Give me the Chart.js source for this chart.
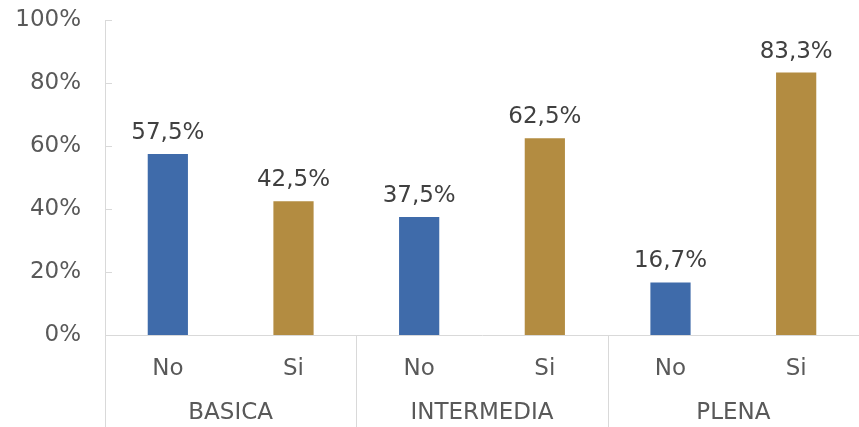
<!DOCTYPE html>
<html>
<head>
<meta charset="utf-8">
<script src="https://cdn.jsdelivr.net/npm/chart.js@4"></script>
<style>
  html, body { margin: 0; padding: 0; background: #fff; }
  #wrap { width: 859px; height: 427px; }
</style>
</head>
<body>
<div id="wrap"><canvas id="chart"></canvas></div>
<script>
// data
const groups = ['BASICA', 'INTERMEDIA', 'PLENA'];
const answers = ['No', 'Si'];
const values = [57.5, 42.5, 37.5, 62.5, 16.7, 83.3];
const yTicks = [0, 20, 40, 60, 80, 100];

const blue = '#3F6BAA';
const gold = '#B38C41';
const font = '"DejaVu Sans", Verdana, sans-serif';
const fontSize = 23;

const labels = [];
groups.forEach(function () { answers.forEach(function (a) { labels.push(a); }); });

// value labels over bars, group labels and separators under the axis
const extras = {
  id: 'extras',
  afterDatasetsDraw: function (chart) {
    const ctx = chart.ctx;
    const meta = chart.getDatasetMeta(0);
    ctx.save();
    ctx.font = fontSize + 'px ' + font;
    ctx.fillStyle = '#404040';
    ctx.textAlign = 'center';
    ctx.textBaseline = 'alphabetic';
    meta.data.forEach(function (bar, i) {
      ctx.fillText(values[i].toFixed(1).replace('.', ',') + '%', bar.x, bar.y - 15);
    });
    ctx.restore();
  },
  afterDraw: function (chart) {
    const ctx = chart.ctx;
    const x = chart.scales.x;
    const y = chart.scales.y;
    const area = chart.chartArea;
    const step = (x.getPixelForValue(1) - x.getPixelForValue(0));
    ctx.save();
    // small inside ticks on the y axis
    ctx.strokeStyle = '#d9d9d9';
    ctx.lineWidth = 1;
    yTicks.forEach(function (t) {
      const py = Math.round(y.getPixelForValue(t)) + 0.5;
      ctx.beginPath();
      ctx.moveTo(area.left, py);
      ctx.lineTo(area.left + 7, py);
      ctx.stroke();
    });
    // separators between groups
    for (let g = 0; g <= groups.length; g++) {
      const px = Math.round(x.getPixelForValue(g * answers.length) - step / 2) + 0.5;
      ctx.beginPath();
      ctx.moveTo(px, area.bottom);
      ctx.lineTo(px, chart.height);
      ctx.stroke();
    }
    // group labels
    ctx.font = fontSize + 'px ' + font;
    ctx.fillStyle = '#595959';
    ctx.textAlign = 'center';
    ctx.textBaseline = 'middle';
    groups.forEach(function (name, g) {
      const first = x.getPixelForValue(g * answers.length);
      const last = x.getPixelForValue(g * answers.length + answers.length - 1);
      ctx.fillText(name, (first + last) / 2, 413);
    });
    ctx.restore();
  }
};

new Chart(document.getElementById('chart'), {
  type: 'bar',
  data: {
    labels: labels,
    datasets: [{
      data: values,
      backgroundColor: values.map(function (v, i) { return i % 2 === 0 ? blue : gold; }),
      barPercentage: 0.32,
      categoryPercentage: 1
    }]
  },
  options: {
    responsive: true,
    maintainAspectRatio: false,
    animation: false,
    layout: { padding: { top: 20, right: 0, left: 0, bottom: 0 } },
    plugins: {
      legend: { display: false },
      tooltip: { enabled: false }
    },
    scales: {
      x: {
        grid: { display: false },
        border: { display: true, color: '#d9d9d9', width: 1 },
        ticks: {
          color: '#595959',
          font: { family: font, size: fontSize },
          padding: 12
        },
        afterFit: function (scale) {
          scale.height = 92;
          scale.paddingLeft = 0;
          scale.paddingRight = 0;
        }
      },
      y: {
        min: 0,
        max: 100,
        afterBuildTicks: function (scale) {
          scale.ticks = yTicks.map(function (v) { return { value: v }; });
        },
        grid: { display: false, drawTicks: false },
        border: { display: true, color: '#d9d9d9', width: 1 },
        ticks: {
          color: '#595959',
          font: { family: font, size: fontSize },
          padding: 24,
          callback: function (v) { return v + '%'; }
        },
        afterFit: function (scale) {
          scale.width = 105;
          scale.paddingTop = 0;
          scale.paddingBottom = 0;
        }
      }
    }
  },
  plugins: [extras]
});
</script>
</body>
</html>
